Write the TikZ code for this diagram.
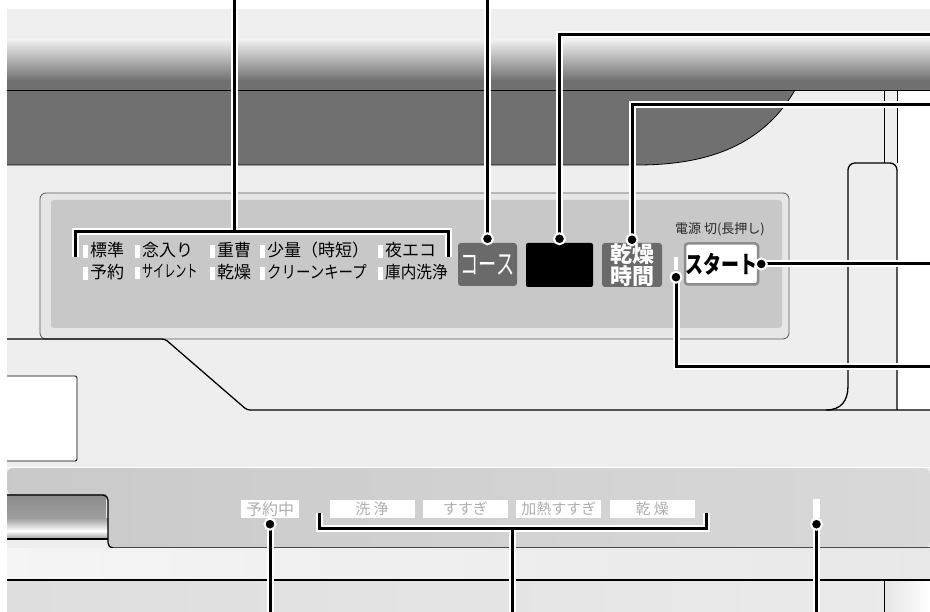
\documentclass[tikz,border=0pt]{standalone}
\usepackage{fontspec}
\usepackage{tikz}
\usetikzlibrary{matrix,positioning}
\newfontfamily\jp{Noto Sans CJK JP}
\definecolor{rail}{HTML}{EFEFEF}
\definecolor{body}{HTML}{EEEEEE}
\definecolor{dark}{HTML}{707070}
\definecolor{panel}{HTML}{C8C8C8}
\definecolor{frame}{HTML}{E6E6E6}
\definecolor{keygray}{HTML}{6A6A6A}
\definecolor{faint}{HTML}{AFAFAF}
\colorlet{band}{black!21}
\newcommand{\fsize}[1]{\fontsize{#1}{#1}\selectfont}
\newcommand{\lamp}{\textcolor{white}{\rule[-1.5pt]{5pt}{12.5pt}}\hspace{2pt}}
\newcommand{\narrow}[2][0.8]{\scalebox{#1}[1]{#2}}

\begin{document}
\begin{tikzpicture}[
    x=1pt, y=-1pt,
    edge/.style={line width=1.3pt, black},
    hair/.style={line width=0.8pt, black},
    leader/.style={line width=3pt, preaction={draw=white, line width=7pt}},
    dot/.style={circle, fill=black, draw=white, line width=2pt,%
                minimum size=11pt, inner sep=0pt},
    key/.style={rounded corners=3pt, inner sep=0pt, minimum height=43pt},
    cell/.style={font=\jp\fsize{17}, inner sep=0pt, minimum height=22pt,%
                 align=left, anchor=west},
    tag/.style={fill=white, text=faint, font=\jp\fsize{15}, inner sep=0pt,%
                minimum height=18pt, minimum width=85pt}
]
\useasboundingbox (0,0) rectangle (930,612);
\fill[white] (0,0) rectangle (930,612);
\fill[body] (7,90) rectangle (930,612);
\fill[white] (897,90) rectangle (930,410);

% top rail and dark window
\fill[rail] (7,9) rectangle (930,41);
\shade[top color=rail, bottom color=dark] (7,40) rectangle (930,81);
\fill[dark] (7,80) rectangle (930,90);
\fill[dark] (7,90) -- (795,90) .. controls (760,150) and (700,165) .. (637,165) -- (7,165) -- cycle;
\draw[hair] (7,90) -- (930,90);
\draw[hair] (7,165) -- (637,165) .. controls (700,165) and (760,150) .. (795,90);
\draw[hair] (884,90) -- (884,163) (897,90) -- (897,163);

% control panel
\draw[draw=black!65, fill=frame, rounded corners=6pt, line width=0.8pt] (40,193) rectangle (789,339);
\fill[panel, rounded corners=3pt] (51,200) rectangle (782,328);

% body outline and door
\draw[edge, rounded corners=3pt] (7,339) -- (165,339) -- (247,410) -- (930,410);
\draw[edge, rounded corners=7pt] (848,386) -- (848,163) -- (897,163) -- (897,410);
\draw[edge] (826,410) .. controls (841,410) and (848,401) .. (848,386);
\draw[hair, fill=white, rounded corners=1.5pt] (7,376) -- (77,376) -- (77,461) -- (7,461);

% lower band and handle
\shade[left color=band, right color=black!15, rounded corners=6pt] (7,468) -- (930,468) -- (930,548) -- (108,548) -- (108,495) -- (7,495) -- cycle;
\shade[top color=black!45, bottom color=black!38] (7,495) rectangle (106,518);
\shade[top color=black!38, bottom color=white] (7,518) rectangle (108,531);
\shade[top color=white, bottom color=black!40] (7,531) rectangle (108,539);
\draw[edge, rounded corners=5pt] (7,495) -- (108,495) -- (108,548) -- (930,548);
\draw[edge] (7,539) -- (108,539);
\draw[white, line width=1pt] (7,467.5) -- (930,467.5);
\shade[left color=black!4, right color=black!9] (7,548) rectangle (930,580);
\shade[left color=black!13, right color=black!8] (7,580) rectangle (884,612);
\shade[left color=black!10, right color=white] (884,580) rectangle (930,612);
\draw[edge] (7,580) -- (930,580);
\draw[hair] (884,580) -- (884,612);

% course names
\matrix (modes) [matrix of nodes, anchor=west, inner sep=0pt,%
                 nodes={cell}, column sep=0pt, row sep=0pt,%
                 column 1/.style={nodes={text width=52pt}},%
                 column 2/.style={nodes={text width=75pt}},%
                 column 3/.style={nodes={text width=50pt}},%
                 column 4/.style={nodes={text width=118pt}},%
                 column 5/.style={nodes={text width=75pt}}] at (83,261)
{
    \lamp 標準 & \lamp 念入り & \lamp 重曹 & \lamp 少量（時短） & \lamp 夜エコ \\
    \lamp 予約 & \lamp\narrow[0.65]{サイレント} & \lamp 乾燥 & \lamp\narrow[0.85]{クリーンキープ} & \lamp\narrow[0.92]{庫内洗浄} \\
};

% keys
\node[key, fill=keygray, text=white, minimum width=59pt, font=\jp\fsize{28}] (course) at (487.5,264.5) {\narrow[0.65]{コース}};
\node[key, fill=black, rounded corners=2pt, minimum width=67pt, minimum height=44pt] (display) at (559.5,265) {};
\node[key, fill=keygray, text=white, minimum width=60pt, minimum height=44pt, align=center,%
      font=\jp\bfseries\fontsize{22}{22}\selectfont] (drytime) at (632,265) {乾燥\\時間};
\node[key, fill=white, draw=black!45, line width=2.5pt, minimum width=73pt, minimum height=41pt,%
      font=\jp\bfseries\fsize{24}] (start) at (721.5,264) {\narrow[0.75]{スタート}};
\node[font=\jp\fsize{13}, text=black!85] (power-note) at (720,229) {電源 切(長押し)};
\node[fill=white, inner sep=0pt, minimum width=4pt, minimum height=13pt] (power-lamp) at (676,263.5) {};

% status lamps
\node[tag, minimum width=58pt, font=\jp\fsize{16}] (resv) at (270,509) {予約中};
\node[tag] (wash) at (372,509) {洗 浄};
\node[tag, right=8pt of wash] (rinse) {すすぎ};
\node[tag, right=8pt of rinse] (hotrinse) {加熱すすぎ};
\node[tag, right=8pt of hotrinse] (dry) {乾 燥};
\node[fill=white, inner sep=0pt, minimum width=7pt, minimum height=19pt] (end-lamp) at (816.5,508.5) {};

% leaders
\coordinate (modes-a) at (75,257);
\coordinate (modes-b) at (448,257);
\coordinate (modes-mid) at (234,232);
\coordinate (modes-top) at (234,0);
\coordinate (course-pin) at ([yshift=4pt]course.north);
\coordinate (course-top) at (488,0);
\coordinate (display-pin) at ([yshift=4pt]display.north);
\coordinate (display-end) at (930,35);
\coordinate (drytime-pin) at ([yshift=3pt]drytime.north);
\coordinate (drytime-end) at (930,105);
\coordinate (start-pin) at ([xshift=2pt]start.east);
\coordinate (start-end) at (930,263);
\coordinate (power-pin) at ([yshift=-7pt]power-lamp.south);
\coordinate (power-end) at (930,367);
\coordinate (resv-pin) at ([yshift=-6pt]resv.south);
\coordinate (resv-end) at (272,612);
\coordinate (phases-a) at (319,513);
\coordinate (phases-b) at (706,513);
\coordinate (phases-mid) at (512,528);
\coordinate (phases-end) at (512,612);
\coordinate (end-pin) at ([yshift=-6pt]end-lamp.south);
\coordinate (end-end) at (817,612);

\draw[leader] (modes-a) |- (modes-mid) -| (modes-b) (modes-mid) -- (modes-top);
\draw[leader] (course-pin) -- (course-pin |- course-top);
\draw[leader] (display-pin) |- (display-end);
\draw[leader] (drytime-pin) |- (drytime-end);
\draw[leader] (start-pin) -- (start-pin -| start-end);
\draw[leader] (power-pin) |- (power-end);
\draw[leader] (resv-pin) -- (resv-pin |- resv-end);
\draw[leader] (phases-a) |- (phases-mid) -| (phases-b) (phases-mid) -- (phases-end);
\draw[leader] (end-pin) -- (end-pin |- end-end);

\foreach \p in {course-pin, display-pin, drytime-pin, start-pin, power-pin, resv-pin, end-pin}
    \node[dot] at (\p) {};
\end{tikzpicture}
\end{document}
